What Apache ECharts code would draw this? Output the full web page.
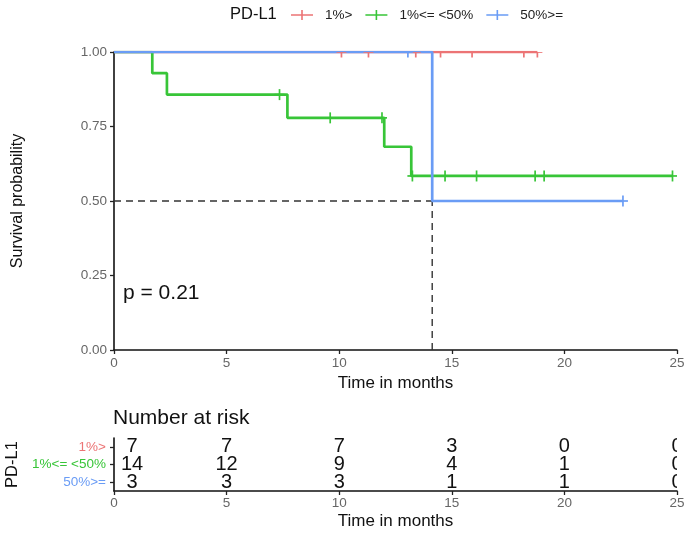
<!DOCTYPE html>
<html>
<head>
<meta charset="utf-8">
<title>Kaplan-Meier PD-L1</title>
<script src="https://cdn.jsdelivr.net/npm/echarts/dist/echarts.min.js"></script>
<style>
  html, body { margin: 0; padding: 0; background: #fff; }
  #chart { width: 685px; height: 533px; }
</style>
</head>
<body>
<div id="chart"></div>
<script>
// groups and data
const groups = ["1%>", "1%<= <50%", "50%>="];
const xTicks = [0, 5, 10, 15, 20, 25];

// step points of each curve (time in months, survival)
const lowTime = [0, 18.8];
const lowSurv = [1, 1];
const midTime = [0, 1.7, 2.35, 7.7, 12.0, 13.2, 24.8];
const midSurv = [1, 0.929, 0.857, 0.779, 0.682, 0.584, 0.584];
const highTime = [0, 14.13, 22.6];
const highSurv = [1, 0.5, 0.5];

// censored observations
const lowCensTime = [10.1, 11.3, 13.4, 14.5, 15.9, 18.2, 18.8];
const lowCensSurv = [1, 1, 1, 1, 1, 1, 1];
const midCensTime = [7.35, 9.6, 11.9, 13.25, 14.7, 16.1, 18.7, 19.1, 24.8];
const midCensSurv = [0.857, 0.779, 0.779, 0.584, 0.584, 0.584, 0.584, 0.584, 0.584];
const highCensTime = [13.05, 22.6];
const highCensSurv = [1, 0.5];

// median survival guide
const medianTime = 14.13;
const medianSurv = 0.5;
const pText = "p = 0.21";

// number at risk table
const riskLow = [7, 7, 7, 3, 0, 0];
const riskMid = [14, 12, 9, 4, 1, 0];
const riskHigh = [3, 3, 3, 1, 1, 0];

const colors = ["#EC7475", "#38C538", "#6A9CF5"];
const font = "Liberation Sans";

function zip(a, b) {
  return a.map((v, i) => [v, b[i]]);
}

// small "+" censor marks, clipped to the plot panel
function censorSeries(name, t, s, color) {
  return {
    name: name,
    type: "custom",
    xAxisIndex: 0,
    yAxisIndex: 0,
    clip: true,
    z: 5,
    encode: { x: 0, y: 1 },
    data: zip(t, s),
    renderItem: function (params, api) {
      const p = api.coord([api.value(0), api.value(1)]);
      return {
        type: "group",
        children: [
          { type: "line", shape: { x1: p[0] - 5, y1: p[1], x2: p[0] + 5, y2: p[1] }, style: { stroke: color, lineWidth: 1.7 } },
          { type: "line", shape: { x1: p[0], y1: p[1] - 5.5, x2: p[0], y2: p[1] + 5.5 }, style: { stroke: color, lineWidth: 1.7 } },
        ],
      };
    },
  };
}

function kmSeries(name, t, s, color) {
  return {
    name: name,
    type: "line",
    step: "end",
    xAxisIndex: 0,
    yAxisIndex: 0,
    showSymbol: false,
    symbol: "none",
    lineStyle: { color: color, width: 2.7 },
    itemStyle: { color: color },
    data: zip(t, s),
    z: 3,
  };
}

const riskData = [];
[riskLow, riskMid, riskHigh].forEach((arr, g) => {
  arr.forEach((n, i) => riskData.push([xTicks[i], groups[g], n]));
});

const legendIcon = "path://M0,4.2 L22,4.2 L22,5.8 L0,5.8 Z M10.2,0 L11.8,0 L11.8,10 L10.2,10 Z";

const axisCommon = {
  axisLine: { show: true, lineStyle: { color: "#111", width: 1.6 } },
  axisTick: { show: true, length: 4, lineStyle: { color: "#222", width: 1.3 } },
  splitLine: { show: false },
};

const chart = echarts.init(document.getElementById("chart"));
const option = {
  animation: false,
  backgroundColor: "#fff",
  textStyle: { fontFamily: font },
  legend: {
    left: 286,
    top: 3,
    itemWidth: 22,
    itemHeight: 10,
    itemGap: 13,
    textStyle: { fontSize: 13.5, color: "#222", fontFamily: font, padding: [0, 0, 0, 7] },
    data: groups.map((g) => ({ name: g, icon: legendIcon })),
  },
  graphic: [
    { type: "text", left: 230, top: 6, style: { text: "PD-L1", fontSize: 16.5, fill: "#111", fontFamily: font } },
    { type: "text", left: 113, top: 408, style: { text: "Number at risk", fontSize: 21, fill: "#111", fontFamily: font } },
  ],
  grid: [
    { left: 114, right: 8, top: 52, height: 298, outerBoundsMode: "none" },
    { left: 114, right: 8, top: 438, height: 53, outerBoundsMode: "none" },
  ],
  xAxis: [
    Object.assign({}, axisCommon, {
      type: "value",
      gridIndex: 0,
      min: 0,
      max: 25,
      interval: 5,
      name: "Time in months",
      nameLocation: "middle",
      nameGap: 24,
      nameTextStyle: { fontSize: 17, color: "#111", fontFamily: font },
      axisLabel: { fontSize: 13.5, color: "#666", margin: 6, fontFamily: font },
    }),
    Object.assign({}, axisCommon, {
      type: "value",
      gridIndex: 1,
      min: 0,
      max: 25,
      interval: 5,
      name: "Time in months",
      nameLocation: "middle",
      nameGap: 22,
      nameTextStyle: { fontSize: 17, color: "#111", fontFamily: font },
      axisLabel: { fontSize: 13.5, color: "#666", margin: 5, fontFamily: font },
    }),
  ],
  yAxis: [
    Object.assign({}, axisCommon, {
      type: "value",
      gridIndex: 0,
      min: 0,
      max: 1,
      interval: 0.25,
      name: "Survival probability",
      nameLocation: "middle",
      nameGap: 88,
      nameTextStyle: { fontSize: 16, color: "#111", fontFamily: font },
      axisLabel: { fontSize: 13.5, color: "#666", margin: 7, fontFamily: font, formatter: (v) => v.toFixed(2) },
    }),
    Object.assign({}, axisCommon, {
      type: "category",
      gridIndex: 1,
      data: groups.slice().reverse(),
      name: "PD-L1",
      nameLocation: "middle",
      nameGap: 90,
      nameTextStyle: { fontSize: 16.5, color: "#111", fontFamily: font },
      axisTick: { show: true, length: 4, alignWithLabel: true, interval: 0, lineStyle: { color: "#222", width: 1.3 } },
      axisLabel: {
        interval: 0,
        fontSize: 13.5,
        margin: 8,
        fontFamily: font,
        color: (v) => colors[groups.indexOf(v)],
      },
    }),
  ],
  series: [
    {
      name: "median",
      type: "line",
      xAxisIndex: 0,
      yAxisIndex: 0,
      symbol: "none",
      lineStyle: { color: "#333", width: 1.4, type: [7, 5] },
      data: [[0, medianSurv], [medianTime, medianSurv]],
      z: 2,
    },
    {
      name: "median v",
      type: "line",
      xAxisIndex: 0,
      yAxisIndex: 0,
      symbol: "none",
      lineStyle: { color: "#333", width: 1.4, type: [7, 5] },
      data: [[medianTime, 0], [medianTime, medianSurv]],
      z: 2,
    },
    kmSeries(groups[0], lowTime, lowSurv, colors[0]),
    kmSeries(groups[1], midTime, midSurv, colors[1]),
    kmSeries(groups[2], highTime, highSurv, colors[2]),
    censorSeries(groups[0], lowCensTime, lowCensSurv, colors[0]),
    censorSeries(groups[1], midCensTime, midCensSurv, colors[1]),
    censorSeries(groups[2], highCensTime, highCensSurv, colors[2]),
    {
      name: "p",
      type: "custom",
      xAxisIndex: 0,
      yAxisIndex: 0,
      data: [[0, 0.19]],
      renderItem: function (params, api) {
        const p = api.coord([0, 0.19]);
        return { type: "text", x: p[0] + 9, y: p[1], style: { text: pText, fontSize: 21, fill: "#111", fontFamily: font, verticalAlign: "middle" } };
      },
    },
    {
      name: "risk",
      type: "custom",
      xAxisIndex: 1,
      yAxisIndex: 1,
      clip: true,
      encode: { x: 0, y: 1 },
      data: riskData,
      renderItem: function (params, api) {
        const p = api.coord([api.value(0), api.value(1)]);
        const shift = api.value(0) === 0 ? 18 : 0;
        return {
          type: "text",
          x: p[0] + shift,
          y: p[1],
          style: { text: String(api.value(2)), fontSize: 20, fill: "#111", fontFamily: font, align: "center", verticalAlign: "middle" },
        };
      },
    },
  ],
};
chart.setOption(option);
</script>
</body>
</html>
